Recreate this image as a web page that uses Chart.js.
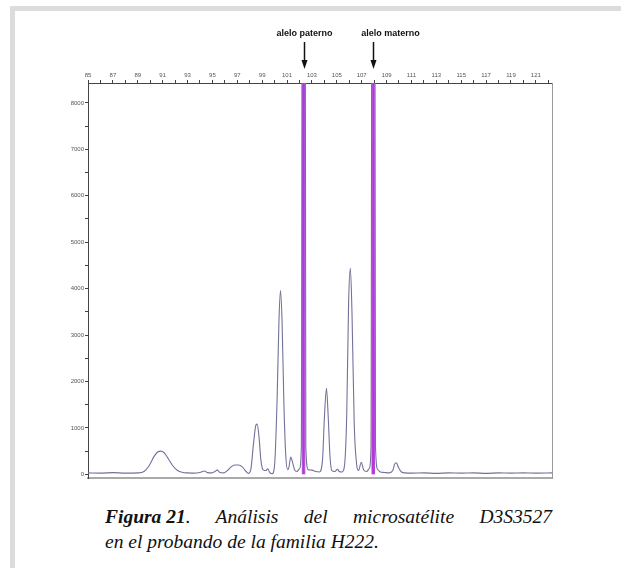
<!DOCTYPE html>
<html>
<head>
<meta charset="utf-8">
<script src="https://cdn.jsdelivr.net/npm/chart.js@4.4.0/dist/chart.umd.min.js"></script>
<style>
  html, body { margin: 0; padding: 0; background: #fff; }
  body { width: 621px; height: 568px; position: relative; overflow: hidden; }
  #frame {
    position: absolute; left: 10px; top: 6px; right: -10px; bottom: -10px;
    border-left: 5px solid #dcdcdc; border-top: 5px solid #dcdcdc;
  }
  #wrap { position: absolute; left: 0; top: 0; }
  .caption {
    position: absolute; left: 105px; width: 447px;
    font-family: "Liberation Serif", "DejaVu Serif", serif;
    font-style: italic; font-size: 19.5px; color: #111; white-space: nowrap;
  }
  #cap1 { top: 506px; text-align: justify; text-align-last: justify; }
  #cap2 { top: 531px; text-align: left; }
  .caption b { font-weight: bold; display: inline-block; }
</style>
</head>
<body>
<div id="frame"></div>
<div id="wrap"><canvas id="electro" width="621" height="490"></canvas></div>
<div class="caption" id="cap1"><b>Figura 21</b>. Análisis del microsatélite D3S3527</div>
<div class="caption" id="cap2">en el probando de la familia H222.</div>

<script>
// tamaño en pb (eje superior) y señal RFU del marcador D3S3527
const sizes = [
  85.0, 86.0, 87.0, 88.0, 89.0, 89.5, 89.9, 90.3, 90.6, 90.85, 91.1, 91.4, 91.8, 92.2, 92.6,
  93.0, 93.5, 94.0, 94.2, 94.4, 94.6, 94.9, 95.2, 95.4, 95.6, 95.9, 96.2, 96.5, 96.8, 97.1,
  97.4, 97.7, 97.9, 98.1, 98.3, 98.5, 98.6, 98.75, 98.9, 99.1, 99.3, 99.45, 99.6, 99.8,
  100.0, 100.2, 100.35, 100.47, 100.6, 100.75, 100.9, 101.05, 101.15, 101.3, 101.45, 101.6,
  101.8, 102.0, 102.15, 102.33, 102.51, 102.7, 103.0, 103.3, 103.6, 103.85, 104.0, 104.17,
  104.3, 104.45, 104.6, 104.85, 105.05, 105.2, 105.4, 105.6, 105.8, 105.95, 106.09, 106.22,
  106.4, 106.6, 106.75, 106.97, 107.15, 107.4, 107.6, 107.75, 107.93, 108.11, 108.3, 108.5,
  108.8, 109.2, 109.5, 109.65, 109.8, 109.95, 110.2, 110.5, 111.0, 112.0, 113.0, 114.0,
  115.0, 116.0, 117.0, 118.0, 119.0, 120.0, 121.0, 122.3
];
const rfu = [
  30, 25, 35, 25, 30, 60, 180, 380, 480, 500, 470, 360, 190, 80, 40,
  30, 25, 40, 60, 70, 35, 30, 60, 90, 40, 30, 80, 160, 200, 200,
  160, 60, 20, 120, 650, 1060, 1080, 800, 300, 90, 80, 120, 40, 10,
  200, 1600, 3300, 3960, 3300, 1500, 400, 100, 150, 370, 250, 100,
  60, 120, 600, 40000, 600, 100, 90, 60, 50, 300, 1200, 1850,
  1300, 400, 80, 60, 110, 60, 50, 150, 1300, 3700, 4440, 3500,
  1100, 200, 80, 260, 100, 60, 120, 600, 40000, 600, 100, 50,
  40, 30, 80, 220, 250, 150, 50, 30, 25, 30, 20, 30,
  25, 30, 20, 30, 25, 30, 25, 30
];

// picos fuera de escala (se pintan en magenta)
const paternoSizes = [102.23, 102.33, 102.43];
const paternoRfu = [0, 40000, 0];
const maternoSizes = [107.83, 107.93, 108.03];
const maternoRfu = [0, 40000, 0];

const alleleSizes = [102.33, 107.93];
const alleleLabels = ["alelo paterno", "alelo materno"];
const alleleTextShift = [0, 17];

const xTicks = [];
for (let v = 85; v <= 122; v++) xTicks.push(v);
const yTicks = [];
for (let v = 0; v <= 8000; v += 500) yTicks.push(v);

const xMin = 85, xMax = 122.3;
const yMin = -80, yMax = 8430;

const toXY = (xs, ys) => xs.map((x, i) => ({ x: x, y: ys[i] }));

const alleleArrows = {
  id: "alleleArrows",
  afterDraw(chart) {
    const ctx = chart.ctx;
    const xs = chart.scales.x;
    ctx.save();
    ctx.fillStyle = "#111";
    ctx.strokeStyle = "#111";
    ctx.font = "bold 9px 'Liberation Sans', Arial, sans-serif";
    ctx.textAlign = "center";
    ctx.textBaseline = "middle";
    alleleSizes.forEach((s, i) => {
      const px = Math.round(xs.getPixelForValue(s)) + 0.5;
      ctx.fillText(alleleLabels[i], px + alleleTextShift[i], 34);
      ctx.lineWidth = 1.5;
      ctx.beginPath();
      ctx.moveTo(px, 42);
      ctx.lineTo(px, 62);
      ctx.stroke();
      ctx.beginPath();
      ctx.moveTo(px - 3, 60);
      ctx.lineTo(px + 3, 60);
      ctx.lineTo(px, 69);
      ctx.closePath();
      ctx.fill();
    });
    ctx.restore();
  }
};

const tickFont = { family: "'Liberation Sans', Arial, sans-serif", size: 6 };

new Chart(document.getElementById("electro").getContext("2d"), {
  type: "line",
  data: {
    datasets: [
      {
        data: toXY(paternoSizes, paternoRfu),
        borderColor: "#a848d8",
        backgroundColor: "#dd22dd",
        borderWidth: 1,
        fill: "origin",
        pointRadius: 0,
        tension: 0
      },
      {
        data: toXY(maternoSizes, maternoRfu),
        borderColor: "#a848d8",
        backgroundColor: "#dd22dd",
        borderWidth: 1,
        fill: "origin",
        pointRadius: 0,
        tension: 0
      },
      {
        data: toXY(sizes, rfu),
        borderColor: "#72729a",
        borderWidth: 1.1,
        pointRadius: 0,
        fill: false,
        cubicInterpolationMode: "monotone"
      }
    ]
  },
  options: {
    responsive: false,
    animation: false,
    parsing: false,
    layout: { padding: 0 },
    plugins: { legend: { display: false }, tooltip: { enabled: false } },
    scales: {
      x: {
        type: "linear",
        position: "top",
        min: xMin,
        max: xMax,
        afterBuildTicks: (s) => { s.ticks = xTicks.map(v => ({ value: v })); },
        afterFit: (s) => { s.height = 83; },
        ticks: {
          autoSkip: false,
          maxRotation: 0,
          padding: 1,
          color: "#555",
          font: tickFont,
          callback: (v) => (v % 2 === 1 ? v : "")
        },
        grid: { drawOnChartArea: false, tickLength: 3, color: "#444" },
        border: { color: "#444", width: 1 }
      },
      x2: {
        type: "linear",
        position: "bottom",
        min: xMin,
        max: xMax,
        afterFit: (s) => { s.height = 12; },
        ticks: { display: false },
        grid: { display: false },
        border: { color: "#aaa", width: 2 }
      },
      y: {
        type: "linear",
        position: "left",
        min: yMin,
        max: yMax,
        afterBuildTicks: (s) => { s.ticks = yTicks.map(v => ({ value: v })); },
        afterFit: (s) => { s.width = 88; },
        ticks: {
          autoSkip: false,
          padding: 1,
          color: "#555",
          font: tickFont,
          callback: (v) => (v % 1000 === 0 ? v : "")
        },
        grid: { drawOnChartArea: false, tickLength: 3, color: "#444" },
        border: { color: "#444", width: 1 }
      },
      y2: {
        type: "linear",
        position: "right",
        min: yMin,
        max: yMax,
        afterFit: (s) => { s.width = 69; },
        ticks: { display: false },
        grid: { display: false },
        border: { color: "#999", width: 1 }
      }
    }
  },
  plugins: [alleleArrows]
});
</script>
</body>
</html>
